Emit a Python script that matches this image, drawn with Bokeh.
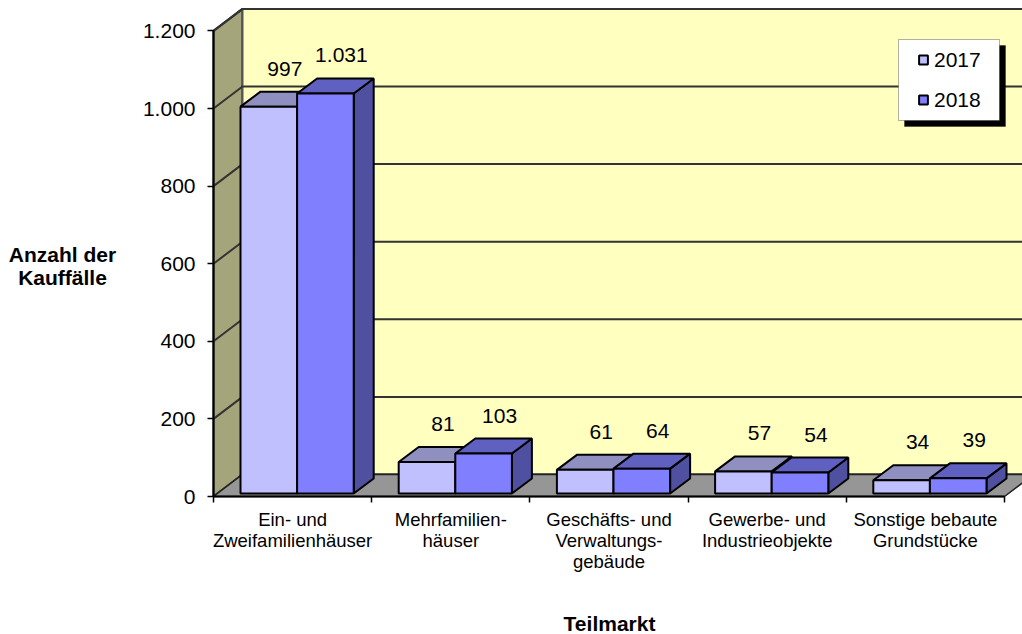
from bokeh.plotting import figure
from bokeh.models import Range1d, LinearAxis, FixedTicker, Legend, LegendItem, BoxAnnotation, ColumnDataSource, Label
from bokeh.core.properties import value
from bokeh.embed import file_html
from bokeh.resources import INLINE

categories = ["Ein- und\nZweifamilienhäuser", "Mehrfamilien-\nhäuser", "Geschäfts- und\nVerwaltungs-\ngebäude",
              "Gewerbe- und\nIndustrieobjekte", "Sonstige bebaute\nGrundstücke"]
values_2017 = [997, 81, 61, 57, 34]
values_2018 = [1031, 103, 64, 54, 39]
y_ticks = [0, 200, 400, 600, 800, 1000, 1200]
y_tick_labels = ["0", "200", "400", "600", "800", "1.000", "1.200"]
series_names = ["2017", "2018"]
series_values = [values_2017, values_2018]

W, H = 1022, 634
ORIGIN_X, ORIGIN_Y = 213, 496   # where the axes cross, in pixels
PX_X = 158.2   # pixels per category
PX_Y = 0.388   # pixels per value unit
WALL_DX, WALL_DY = 29 / PX_X, 22 / PX_Y
BAR_DX, BAR_DY = 20 / PX_X, 15 / PX_Y
LIFT = 3 / PX_Y
BAR_START = 27 / PX_X
BAR_W = 56.6 / PX_X
LABEL_DX, LABEL_DY = 16 / PX_X, 38 / PX_Y
N = len(categories)
TOP = y_ticks[-1]
FONT = "Liberation Sans"

front_cols = ["#C0C0FF", "#8080FF"]
top_cols = ["#9090C0", "#6060C0"]
side_cols = ["#6868A8", "#5050A0"]

p = figure(width=W, height=H, output_backend="svg", toolbar_location=None,
           x_range=Range1d(-ORIGIN_X / PX_X, (W - ORIGIN_X) / PX_X),
           y_range=Range1d(-(H - ORIGIN_Y) / PX_Y, ORIGIN_Y / PX_Y),
           x_axis_type=None, y_axis_type=None, min_border=0, outline_line_color=None)
p.grid.visible = False

# walls and floor
p.patch([0, WALL_DX, WALL_DX, 0], [0, WALL_DY, TOP + WALL_DY, TOP], fill_color="#A5A57C", line_color="#222222", line_width=2)
p.patch([WALL_DX, N + WALL_DX, N + WALL_DX, WALL_DX], [WALL_DY, WALL_DY, TOP + WALL_DY, TOP + WALL_DY],
        fill_color="#FFFFC0", line_color="#555555", line_width=2)
gx = [[0, WALL_DX, N + WALL_DX] for _ in y_ticks]
gy = [[v, v + WALL_DY, v + WALL_DY] for v in y_ticks]
p.multi_line(gx, gy, line_color="#333333", line_width=2)
p.patch([0, N, N + WALL_DX, WALL_DX], [0, 0, WALL_DY, WALL_DY], fill_color="#969696", line_color="#222222", line_width=1.5)

# bars
for s, vals in enumerate(series_values):
    for i, v in enumerate(vals):
        x0 = i + BAR_START + s * BAR_W
        x1 = x0 + BAR_W
        y0, y1 = LIFT, LIFT + v
        p.patch([x1, x1 + BAR_DX, x1 + BAR_DX, x1], [y0, y0 + BAR_DY, y1 + BAR_DY, y1],
                fill_color=side_cols[s], line_color="black", line_width=2)
        p.patch([x0, x1, x1 + BAR_DX, x0 + BAR_DX], [y1, y1, y1 + BAR_DY, y1 + BAR_DY],
                fill_color=top_cols[s], line_color="black", line_width=2)
        p.quad(left=x0, right=x1, bottom=y0, top=y1, fill_color=front_cols[s], line_color="black", line_width=2)

# value labels
def fmt(v):
    return f"{v:,}".replace(",", ".")
lx, ly, lt = [], [], []
for s, vals in enumerate(series_values):
    for i, v in enumerate(vals):
        lx.append(i + BAR_START + (s + 0.5) * BAR_W + LABEL_DX)
        ly.append(LIFT + v + LABEL_DY)
        lt.append(fmt(v))
src = ColumnDataSource(dict(x=lx, y=ly, t=lt))
p.text(x="x", y="y", text="t", source=src, text_align="center", text_baseline="middle",
       text_font_size="21px", text_font=value(FONT), text_color="black")

# axes
yaxis = LinearAxis(ticker=FixedTicker(ticks=y_ticks), bounds=(0, TOP), fixed_location=0,
                   major_label_overrides={t: l for t, l in zip(y_ticks, y_tick_labels)},
                   major_label_text_font=FONT, major_label_text_font_size="21px",
                   major_label_text_color="black", major_tick_in=0, major_tick_out=6, minor_tick_in=0, minor_tick_out=0,
                   major_label_standoff=12, axis_line_color="black", axis_line_width=2,
                   major_tick_line_color="black", major_tick_line_width=1.5)
p.add_layout(yaxis, "left")

centers = [i + 0.5 for i in range(N)]
xaxis = LinearAxis(ticker=FixedTicker(ticks=centers, minor_ticks=list(range(N + 1))), bounds=(0, N), fixed_location=0,
                   major_label_overrides={c: l for c, l in zip(centers, categories)},
                   major_label_text_font=FONT, major_label_text_font_size="18.5px",
                   major_label_text_color="black", major_label_text_line_height=1.0,
                   major_tick_in=0, major_tick_out=0, minor_tick_in=0, minor_tick_out=6,
                   major_label_standoff=6, axis_line_color="black", axis_line_width=2,
                   minor_tick_line_color="black", minor_tick_line_width=1.5)
p.add_layout(xaxis, "below")

# axis titles
p.add_layout(Label(x=62, y=265, x_units="canvas", y_units="canvas", text="Anzahl der\nKauffälle", text_align="center",
                   text_baseline="middle", text_font=FONT, text_font_style="bold", text_font_size="21px",
                   text_color="black", text_line_height=1.0))
p.add_layout(Label(x=609, y=623, x_units="canvas", y_units="canvas", text="Teilmarkt", text_align="center",
                   text_baseline="middle", text_font=FONT, text_font_style="bold", text_font_size="21px",
                   text_color="black"))

# legend
nan = float("nan")
r17 = p.scatter(x=[nan], y=[nan], marker="square", size=10, fill_color=front_cols[0], line_color="black", line_width=2)
r18 = p.scatter(x=[nan], y=[nan], marker="square", size=10, fill_color=front_cols[1], line_color="black", line_width=2)
p.add_layout(BoxAnnotation(left=904, right=1005, top=45, bottom=126,
                           left_units="canvas", right_units="canvas", top_units="canvas", bottom_units="canvas",
                           fill_color="black", fill_alpha=1, line_color="black"))
p.add_layout(BoxAnnotation(left=898, right=999, top=39, bottom=120,
                           left_units="canvas", right_units="canvas", top_units="canvas", bottom_units="canvas",
                           fill_color="white", fill_alpha=1, line_color="black", line_width=1))
legend = Legend(items=[LegendItem(label=series_names[0], renderers=[r17]), LegendItem(label=series_names[1], renderers=[r18])],
                location=(894, 504), padding=18, margin=0, spacing=15, glyph_width=22, glyph_height=25,
                label_standoff=0, label_height=20,
                label_text_font=FONT, label_text_font_size="21px", label_text_color="black",
                background_fill_alpha=0, border_line_alpha=0)
p.add_layout(legend, "center")

open("out.html", "w").write(file_html(p, INLINE))
